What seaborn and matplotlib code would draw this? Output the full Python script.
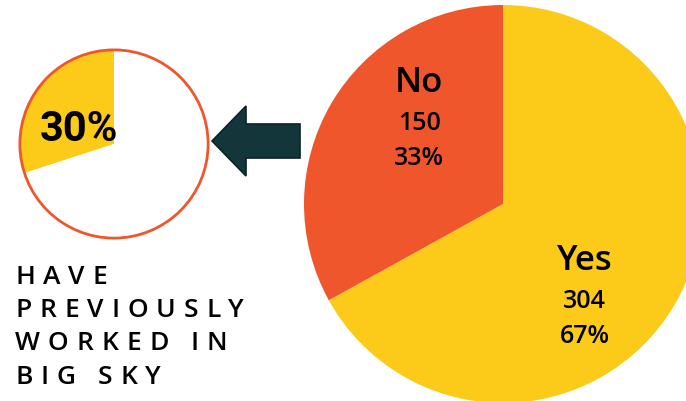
import matplotlib
matplotlib.use("Agg")
import matplotlib.pyplot as plt
import seaborn as sns
from matplotlib.patches import Circle, Polygon
from matplotlib.font_manager import FontProperties
from matplotlib.textpath import TextToPath

# ---- data ----
answers = ["Yes", "No"]
counts = [304, 150]
previously_pct = 30
caption_lines = ["HAVE", "PREVIOUSLY", "WORKED IN", "BIG SKY"]

YELLOW = "#FCCA19"
ORANGE = "#F0562C"
DARK = "#13363A"

sns.set_theme(style="white")
plt.rcParams["font.family"] = ["Lato", "DejaVu Sans"]

W, H = 686, 402
fig = plt.figure(figsize=(W / 100, H / 100), dpi=100)
fig.patch.set_facecolor("white")

def px_axes(cx, cy, r):
    return fig.add_axes([(cx - r) / W, (H - cy - r) / H, 2 * r / W, 2 * r / H])

# ---- big pie ----
total = sum(counts)
pcts = [f"{round(100 * c / total)}%" for c in counts]
axb = px_axes(503, 205, 199)
axb.pie(counts, colors=[YELLOW, ORANGE], startangle=90, counterclock=False,
        radius=1, wedgeprops=dict(linewidth=0))
axb.set_xlim(-1, 1); axb.set_ylim(-1, 1); axb.set_aspect("equal"); axb.axis("off")

label_pos = {"Yes": (0.41, [-0.327, -0.518, -0.693]),
             "No": (-0.42, [0.568, 0.377, 0.201])}
for name, c, p in zip(answers, counts, pcts):
    x, ys = label_pos[name]
    axb.text(x, ys[0], name, ha="center", va="baseline", fontsize=25,
             fontweight="semibold", family=["Open Sans", "DejaVu Sans"], color="black")
    axb.text(x, ys[1], str(c), ha="center", va="baseline", fontsize=18,
             fontweight="semibold", family=["Open Sans", "DejaVu Sans"], color="black")
    axb.text(x, ys[2], p, ha="center", va="baseline", fontsize=18,
             fontweight="semibold", family=["Open Sans", "DejaVu Sans"], color="black")

# ---- small pie ----
axs = px_axes(114, 145, 96)
axs.pie([previously_pct, 100 - previously_pct], colors=[YELLOW, "white"],
        startangle=90, counterclock=True, radius=1, wedgeprops=dict(linewidth=0))
axs.add_patch(Circle((0, 0), 1, fill=False, edgecolor=ORANGE, linewidth=2))
axs.set_xlim(-1.02, 1.02); axs.set_ylim(-1.02, 1.02); axs.set_aspect("equal"); axs.axis("off")
axs.text(-0.37, 0.04, f"{previously_pct}%", ha="center", va="baseline",
         fontsize=30, fontweight="bold", fontstretch="condensed",
         family=["Roboto", "DejaVu Sans"], color="black")

# ---- overlay in pixel coordinates ----
ov = fig.add_axes([0, 0, 1, 1])
ov.set_xlim(0, W); ov.set_ylim(H, 0); ov.axis("off")
ov.patch.set_alpha(0)
arrow = [(212, 142), (246, 107), (246, 125), (300, 125), (300, 159),
         (246, 159), (246, 177)]
ov.add_patch(Polygon(arrow, closed=True, facecolor=DARK, edgecolor="#0B2326",
                     linewidth=1.2, joinstyle="miter"))

# letter-spaced caption
prop = FontProperties(family=["Open Sans", "DejaVu Sans"], size=19, weight="semibold")
ttp = TextToPath()
tracking = 8.0
baselines = [284, 317, 350, 384]
for line, yb in zip(caption_lines, baselines):
    x = 15.0
    for ch in line:
        if ch == " ":
            x += 6.0 + tracking
            continue
        ov.text(x, yb, ch, ha="left", va="baseline", fontproperties=prop, color="black")
        w, h, d = ttp.get_text_width_height_descent(ch, prop, ismath=False)
        x += w * 100 / 72 + tracking

fig.savefig("out.png", dpi=100, facecolor="white")
